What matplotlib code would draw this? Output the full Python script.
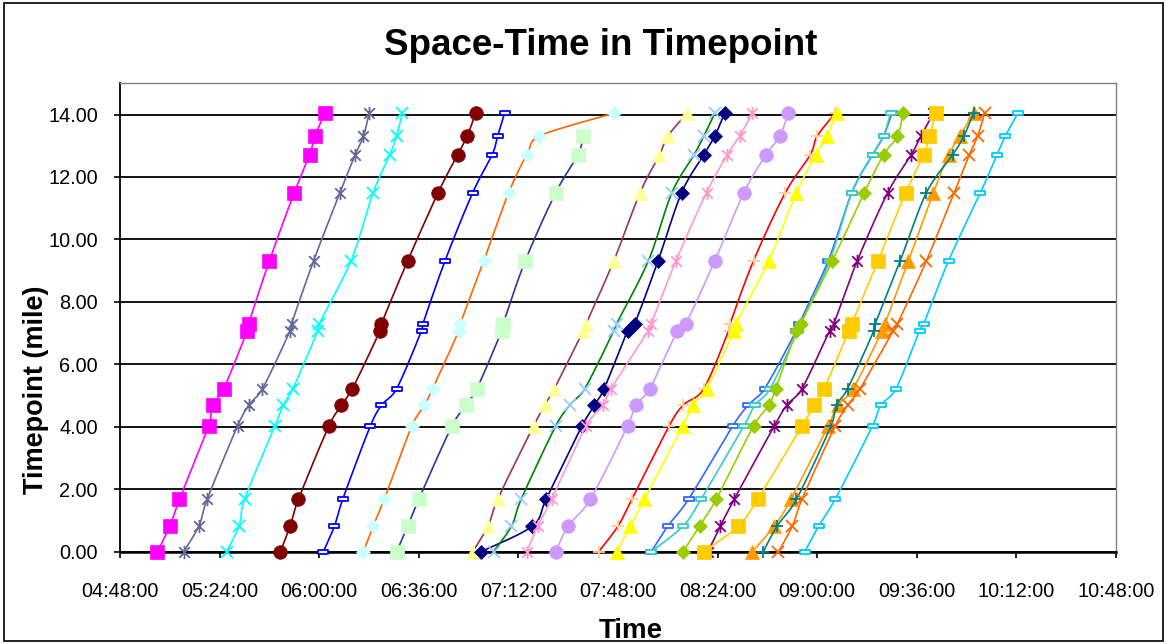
import numpy as np
import pandas as pd
import matplotlib
matplotlib.use("Agg")
import matplotlib.pyplot as plt
import matplotlib.dates as mdates
from matplotlib.path import Path
from matplotlib.patches import Rectangle

plt.rcParams['font.family'] = ['Liberation Sans', 'DejaVu Sans']

# timepoints along the route (mile)
stops = [0.00, 0.82, 1.68, 4.03, 4.69, 5.22, 7.08, 7.30, 9.32, 11.50, 12.71, 13.31, 14.04]

# passing time of every trip at each timepoint
trip_01 = ["05:01:30", "05:06:00", "05:09:30", "05:20:00", "05:21:30", "05:25:30", "05:34:00", "05:34:30", "05:42:00", "05:51:00", "05:56:30", "05:58:30", "06:02:00"]
trip_02 = ["05:11:00", "05:16:30", "05:19:30", "05:30:30", "05:34:30", "05:39:30", "05:49:30", "05:50:00", "05:58:00", "06:07:30", "06:13:00", "06:16:00", "06:18:00"]
trip_03 = ["05:26:30", "05:31:00", "05:33:00", "05:44:00", "05:47:00", "05:50:30", "05:59:30", "06:00:00", "06:11:30", "06:19:30", "06:25:30", "06:28:00", "06:30:00"]
trip_04 = ["05:46:00", "05:49:30", "05:52:30", "06:03:30", "06:08:00", "06:12:00", "06:22:00", "06:22:30", "06:32:00", "06:43:00", "06:50:00", "06:53:30", "06:56:30"]
trip_05 = ["06:01:30", "06:05:30", "06:08:30", "06:18:30", "06:22:30", "06:28:00", "06:37:00", "06:37:30", "06:45:30", "06:55:30", "07:02:30", "07:04:30", "07:07:00"]
trip_06 = ["06:16:00", "06:19:30", "06:23:30", "06:33:30", "06:38:00", "06:41:00", "06:50:30", "06:51:00", "06:59:30", "07:08:30", "07:15:00", "07:19:30", "07:46:30"]
trip_07 = ["06:28:00", "06:32:00", "06:36:00", "06:48:00", "06:53:00", "06:57:00", "07:06:00", "07:06:30", "07:14:30", "07:25:30", "07:33:30", "07:35:30", None]
trip_08 = ["06:55:30", "07:01:00", "07:04:30", "07:17:30", "07:21:30", "07:25:00", "07:35:30", "07:36:30", "07:46:30", "07:56:00", "08:03:00", "08:06:00", "08:13:00"]
trip_09 = ["06:58:30", "07:17:00", "07:22:00", "07:35:00", "07:39:30", "07:43:00", "07:51:30", "07:54:00", "08:02:30", "08:11:00", "08:19:00", "08:23:00", "08:26:30"]
trip_10 = ["07:03:00", "07:09:30", "07:13:00", "07:25:30", "07:30:30", "07:36:00", "07:46:30", "07:47:30", "07:59:00", "08:07:30", "08:15:30", "08:19:00", "08:23:00"]
trip_11 = ["07:15:00", "07:19:00", "07:24:00", "07:36:30", "07:42:30", "07:45:30", "07:59:00", "08:00:00", "08:09:00", "08:20:00", "08:27:30", "08:32:00", "08:36:30"]
trip_12 = ["07:25:30", "07:30:00", "07:38:00", "07:51:30", "07:54:30", "07:59:30", "08:09:30", "08:12:30", "08:23:00", "08:33:30", "08:41:30", "08:46:30", "08:49:30"]
trip_13 = ["07:41:00", "07:48:00", "07:53:00", "08:06:30", "08:11:30", "08:19:00", "08:28:00", "08:28:30", "08:37:00", "08:48:30", "08:57:30", "09:00:00", "09:06:30"]
trip_14 = ["07:47:30", "07:52:30", "07:57:30", "08:11:30", "08:15:00", "08:20:00", "08:30:00", "08:30:30", "08:42:30", "08:52:30", "08:59:30", "09:03:30", "09:07:00"]
trip_15 = ["08:00:00", "08:06:00", "08:13:30", "08:29:30", "08:35:00", "08:41:00", "08:52:30", "08:53:30", "09:04:00", "09:12:30", "09:20:00", "09:24:00", "09:27:00"]
trip_16 = ["08:00:00", "08:11:30", "08:18:00", "08:33:30", "08:37:30", "08:43:00", "08:53:00", "08:54:00", "09:04:30", "09:12:30", "09:20:00", "09:24:00", "09:26:30"]
trip_17 = ["08:11:30", "08:17:30", "08:23:30", "08:37:00", "08:42:30", "08:45:00", "08:52:30", "08:54:00", "09:05:30", "09:17:00", "09:24:00", "09:29:00", "09:31:00"]
trip_18 = ["08:20:30", "08:25:00", "08:30:00", "08:44:30", "08:49:00", "08:54:30", "09:04:30", "09:06:00", "09:14:30", "09:25:30", "09:34:00", "09:37:30", "09:42:00"]
trip_19 = ["08:19:00", "08:31:30", "08:38:30", "08:54:30", "08:59:00", "09:02:30", "09:11:30", "09:12:30", "09:22:00", "09:32:00", "09:38:30", "09:40:30", "09:43:00"]
trip_20 = ["08:36:30", "08:44:30", "08:50:30", "09:04:00", "09:07:30", "09:13:00", "09:23:30", "09:24:30", "09:33:00", "09:42:00", "09:47:30", "09:51:30", "09:56:30"]
trip_21 = ["08:40:30", "08:45:30", "08:52:30", "09:05:00", "09:07:00", "09:11:00", "09:20:30", "09:21:00", "09:30:00", "09:39:30", "09:49:00", "09:53:00", "09:56:30"]
trip_22 = ["08:46:00", "08:51:00", "08:54:30", "09:06:30", "09:11:00", "09:15:30", "09:27:30", "09:29:00", "09:39:30", "09:49:30", "09:55:00", "09:58:00", "10:00:30"]
trip_23 = ["08:55:30", "09:00:30", "09:06:30", "09:20:00", "09:23:00", "09:28:30", "09:37:00", "09:38:30", "09:47:30", "09:59:00", "10:05:00", "10:08:00", "10:12:30"]

trips = [trip_01, trip_02, trip_03, trip_04, trip_05, trip_06, trip_07, trip_08,
         trip_09, trip_10, trip_11, trip_12, trip_13, trip_14, trip_15, trip_16,
         trip_17, trip_18, trip_19, trip_20, trip_21, trip_22, trip_23]

# line colour, marker, marker colour (Excel 2003 look)
styles = [
    ("#FF00FF", "s", "#FF00FF"), ("#666699", "star", "#666699"),
    ("#00FFFF", "x", "#00FFFF"), ("#800000", "o", "#800000"),
    ("#0000FF", "dash", "#0000FF"), ("#FF6600", "D", "#CCFFFF"),
    ("#333399", "s", "#CCFFCC"), ("#993366", "^", "#FFFF99"),
    ("#000080", "D", "#000080"), ("#008000", "x", "#99CCFF"),
    ("#FF99CC", "star", "#FF99CC"), ("#CC99FF", "o", "#CC99FF"),
    ("#FF0000", "+", "#FFCC99"), ("#FFFF00", "^", "#FFFF00"),
    ("#3366FF", "dash", "#3366FF"), ("#33CCCC", "dash", "#33CCCC"),
    ("#99CC00", "D", "#99CC00"), ("#800080", "star", "#800080"),
    ("#FFCC00", "s", "#FFCC00"), ("#FF9900", "^", "#FF9900"),
    ("#008080", "+", "#008080"), ("#FF6600", "x", "#FF6600"),
    ("#00CCFF", "dash", "#00CCFF"),
]

star = Path([(0, -1), (0, 1), (-0.8, -0.8), (0.8, 0.8), (-0.8, 0.8), (0.8, -0.8)],
            [Path.MOVETO, Path.LINETO] * 3)
dash = Path([(-1, -0.4), (1, -0.4), (1, 0.4), (-1, 0.4), (-1, -0.4)],
            [Path.MOVETO, Path.LINETO, Path.LINETO, Path.LINETO, Path.CLOSEPOLY])


def to_num(t):
    return mdates.date2num(pd.Timestamp("2000-01-01 " + t))


def smooth(ax, x, y, n=14):
    # Excel style smoothed line, built in screen space
    pts = ax.transData.transform(np.column_stack([x, y]))
    P = np.vstack([pts[:1], pts, pts[-1:]])
    out = [pts[:1]]
    t = np.linspace(0, 1, n)[1:, None]
    for i in range(1, len(P) - 2):
        p0, p1, p2, p3 = P[i - 1], P[i], P[i + 1], P[i + 2]
        L = np.hypot(*(p2 - p1))
        a = (p2 - p0) / 6
        b = (p3 - p1) / 6
        for v in (a, b):
            nv = np.hypot(*v)
            if nv > L / 2 and nv > 0:
                v *= (L / 2) / nv
        c1, c2 = p1 + a, p2 - b
        out.append((1 - t) ** 3 * p1 + 3 * (1 - t) ** 2 * t * c1 + 3 * (1 - t) * t ** 2 * c2 + t ** 3 * p2)
    return ax.transData.inverted().transform(np.vstack(out))


W, H = 1167, 644
fig = plt.figure(figsize=(W / 100, H / 100), dpi=100)
ax = fig.add_axes([120 / W, 1 - 551.7 / H, 996 / W, 468.4 / H])

x0, x1 = to_num("04:48:00"), to_num("10:48:00")
ax.set_xlim(x0, x1)
ax.set_ylim(0, 15)

for i, (trip, (lc, mk, mc)) in enumerate(zip(trips, styles)):
    xs = [to_num(t) for t, s in zip(trip, stops) if t is not None]
    ys = [s for t, s in zip(trip, stops) if t is not None]
    sm = smooth(ax, xs, ys)
    ax.plot(sm[:, 0], sm[:, 1], color=lc, lw=1.2, zorder=3 + i * 0.01, solid_capstyle='round')
    kw = dict(ls='none', zorder=3.005 + i * 0.01, clip_on=False)
    if mk == "star":
        kw.update(marker=star, ms=9.5, mec=mc, mfc='none', mew=1.3)
    elif mk == "dash":
        kw.update(marker=dash, ms=7.5, mec=mc, mfc='white', mew=1.3)
    elif mk in ("x", "+"):
        kw.update(marker=mk, ms=9, mec=mc, mew=1.3)
    elif mk == "D":
        kw.update(marker=mk, ms=7, mec=mc, mfc=mc, mew=0.5)
    elif mk == "^":
        kw.update(marker=mk, ms=10.5, mec=mc, mfc=mc, mew=0.5)
    else:
        kw.update(marker=mk, ms=9.8, mec=mc, mfc=mc, mew=0.5)
    ax.plot(xs, ys, **kw)

ticks = pd.date_range("2000-01-01 04:48", "2000-01-01 10:48", freq="36min")
ax.set_xticks(mdates.date2num(ticks))
ax.xaxis.set_major_formatter(mdates.DateFormatter("%H:%M:%S"))
ax.set_yticks(np.arange(0, 15, 2))
ax.yaxis.set_major_formatter(plt.FormatStrFormatter("%.2f"))

ax.grid(axis='y', color='black', lw=1.3)
ax.set_axisbelow(True)
for side in ("top", "right"):
    ax.spines[side].set_color("#808080")
    ax.spines[side].set_linewidth(1.0)
ax.spines["left"].set_linewidth(1.3)
ax.spines["bottom"].set_linewidth(1.8)

ax.tick_params(axis='x', direction='out', length=4, width=1.2, labelsize=14.3, pad=18)
ax.tick_params(axis='y', direction='out', length=4, width=1.2, labelsize=14.3, pad=12)

fig.text(601 / W, 1 - 55 / H, "Space-Time in Timepoint", ha='center', va='baseline',
         fontsize=26.5, fontweight='bold')
fig.text(630.5 / W, 1 - 638 / H, "Time", ha='center', va='baseline',
         fontsize=20, fontweight='bold')
fig.text(42.7 / W, 1 - 390 / H, "Timepoint (mile)", rotation=90, rotation_mode='anchor',
         ha='center', va='baseline', fontsize=19.5, fontweight='bold')

fig.patches.append(Rectangle((4 / W, 3 / H), 1 - 8 / W, 1 - 6 / H, transform=fig.transFigure,
                             fill=False, ec='black', lw=1.2))

fig.savefig("out.png", dpi=100)
